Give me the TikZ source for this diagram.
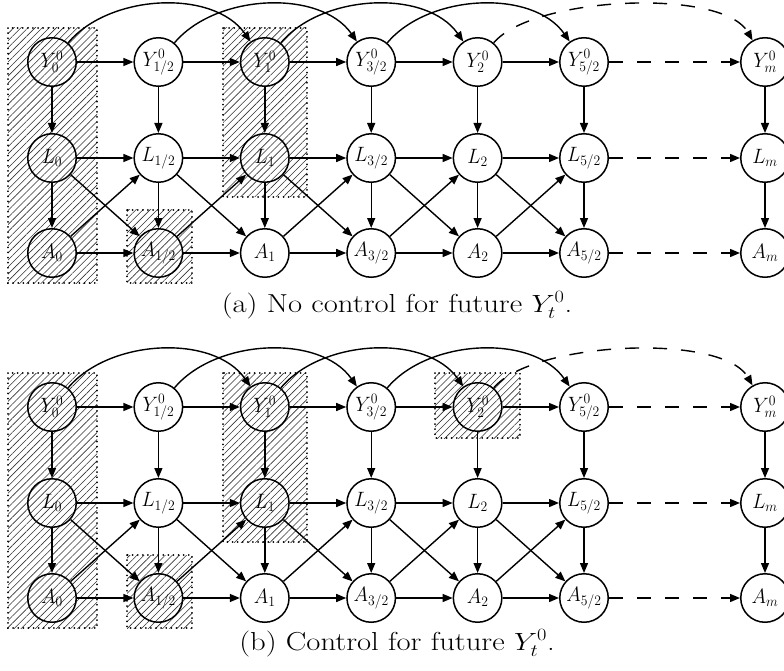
\documentclass[tikz,border=0pt]{standalone}
\usepackage{fontspec}
\usetikzlibrary{arrows.meta,patterns.meta}
\tikzset{
  var/.style={circle,draw,line width=1.5pt,minimum size=48.5pt,inner sep=0pt,font=\fontsize{20.74}{24}\selectfont},
  arr/.style={line width=1.4pt,-{Triangle[length=10pt,width=8pt]}},
  darr/.style={arr,dash pattern=on 14pt off 14pt},
  hatch/.style={pattern={Lines[angle=45,distance=5pt,line width=0.6pt]},pattern color=black!80},
  dotbox/.style={line width=1.8pt,dash pattern=on 0.1pt off 5pt,line cap=round},
  capt/.style={font=\fontsize{26}{30}\selectfont,anchor=base,inner sep=0pt}
}
\newcommand\lbl[1]{\scalebox{0.95}[1]{$#1$}}
\newcommand\hatchbox[2]{%
  \path[hatch] #1 rectangle #2;
  \draw[dotbox] #1 rectangle #2;}
\newcommand\mypanel[3]{%
\begin{scope}[yshift=#2]
  \hatchbox{(8,-28)}{(97,-283)}
  \hatchbox{(127,-210)}{(192,-283)}
  \hatchbox{(223,-28)}{(307,-197)}
  #3
  \foreach \i/\lab/\x in {0/0/52, 1/{1/2}/158.4, 2/1/264.8, 3/{3/2}/371.2, 4/2/477.6, 5/{5/2}/584} {
    \node[var] (#1Y\i) at (\x,-62) {\lbl{Y^0_{\lab}}};
    \node[var] (#1L\i) at (\x,-158) {\lbl{L_{\lab}}};
    \node[var] (#1A\i) at (\x,-253) {\lbl{A_{\lab}}};
  }
  \node[var] (#1Ym) at (765,-62) {\lbl{Y^0_m}};
  \node[var] (#1Lm) at (765,-158) {\lbl{L_m}};
  \node[var] (#1Am) at (765,-253) {\lbl{A_m}};
  \foreach \i in {0,...,5} {
    \draw[arr] (#1Y\i) -- (#1L\i);
    \draw[arr] (#1L\i) -- (#1A\i);
  }
  \foreach \i [evaluate=\i as \j using int(\i+1)] in {0,...,4} {
    \draw[arr] (#1Y\i) -- (#1Y\j);
    \draw[arr] (#1L\i) -- (#1L\j);
    \draw[arr] (#1A\i) -- (#1A\j);
    \draw[arr] (#1L\i) -- (#1A\j);
    \draw[arr] (#1A\i) -- (#1L\j);
  }
  \foreach \i [evaluate=\i as \j using int(\i+2)] in {0,...,3} {
    \draw[arr] (#1Y\i) to[out=50,in=125,looseness=0.9] (#1Y\j);
  }
  \draw[darr] (#1Y4) to[out=50,in=120,looseness=0.6] (#1Ym);
  \draw[darr] (#1Y5) -- (#1Ym);
  \draw[darr] (#1L5) -- (#1Lm);
  \draw[darr] (#1A5) -- (#1Am);
  \draw[arr] (#1Ym) -- (#1Lm);
  \draw[arr] (#1Lm) -- (#1Am);
\end{scope}}
\begin{document}
\begin{tikzpicture}[x=1pt,y=1pt]
  \path[use as bounding box] (0,0) rectangle (784,-671);
  \clip (0,0) rectangle (784,-671);
  \mypanel{a}{0pt}{}
  \mypanel{b}{-345pt}{\hatchbox{(435,-28)}{(520,-93)}}
  \node[capt] (capa) at (397,-312) {\scalebox{1.18}[1]{(a) No control for future $Y^0_t$.}};
  \node[capt] (capb) at (397,-650) {\scalebox{1.18}[1]{(b) Control for future $Y^0_t$.}};
\end{tikzpicture}
\end{document}
